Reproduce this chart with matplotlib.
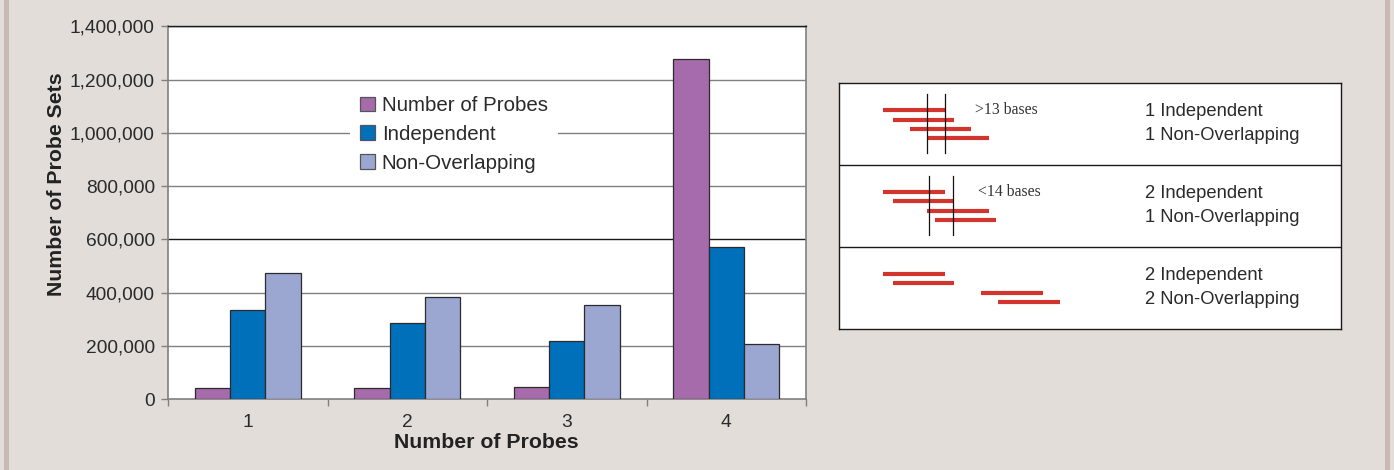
import matplotlib
matplotlib.use("Agg")
import matplotlib.pyplot as plt
import numpy as np
from matplotlib.patches import Rectangle, Patch
from matplotlib.ticker import FuncFormatter, FixedLocator

plt.rcParams['font.family'] = ['Liberation Sans', 'DejaVu Sans']

# ---------------- data ----------------
categories = ['1', '2', '3', '4']
series_names = ['Number of Probes', 'Independent', 'Non-Overlapping']
number_of_probes = [42000, 43000, 44000, 1277000]
independent = [334000, 284000, 219000, 572000]
non_overlapping = [472000, 382000, 354000, 205000]
y_ticks = [0, 200000, 400000, 600000, 800000, 1000000, 1200000, 1400000]
x_label = 'Number of Probes'
y_label = 'Number of Probe Sets'

# schematic: probe start positions (bases) per example row, probe length 25
probe_length = 25
probe_starts = [[0, 4, 11, 18], [0, 4, 18, 21], [0, 4, 40, 47]]
window_marks = [[18, 25], [18.5, 28.5], []]
window_labels = ['>13 bases', '<14 bases', '']
row_labels = [['1 Independent', '1 Non-Overlapping'],
              ['2 Independent', '1 Non-Overlapping'],
              ['2 Independent', '2 Non-Overlapping']]

colors = ['#a56bab', '#0070ba', '#9ba6d1']
bg = '#e2ddd9'

W, H = 1394, 470
fig = plt.figure(figsize=(W / 100, H / 100), dpi=100, facecolor=bg)

# side stripes of the frame
fig.patches.append(Rectangle((4 / W, 0), 5 / W, 1, transform=fig.transFigure,
                             facecolor='#c8b9b4', edgecolor='none', zorder=0))
fig.patches.append(Rectangle((1385 / W, 0), 5 / W, 1, transform=fig.transFigure,
                             facecolor='#c8b9b4', edgecolor='none', zorder=0))

# ---------------- bar chart ----------------
ax = fig.add_axes([168 / W, 1 - 399 / H, (806 - 168) / W, (399 - 26.3) / H])
ax.set_facecolor('white')
x = np.arange(len(categories))
bw = 0.222
series = [number_of_probes, independent, non_overlapping]
for i, (vals, c) in enumerate(zip(series, colors)):
    ax.bar(x + (i - 1) * bw, vals, width=bw, color=c, edgecolor='#2b2b2b',
           linewidth=0.9, zorder=3)

ax.set_xlim(-0.5, len(categories) - 0.5)
ax.set_ylim(0, y_ticks[-1])
for v in y_ticks[1:]:
    ax.axhline(v, color='#1a1a1a' if v in (600000, 1400000) else '#808080',
               lw=1.0, zorder=1)

ax.yaxis.set_major_locator(FixedLocator(y_ticks))
ax.yaxis.set_major_formatter(FuncFormatter(lambda v, p: f'{int(v):,}'))
ax.set_xticks(x)
ax.set_xticklabels(categories)
ax.set_xticks(np.arange(len(categories) + 1) - 0.5, minor=True)
ax.tick_params(axis='y', direction='out', length=5, width=1, color='#808080',
               labelsize=13.8, pad=4.5, labelcolor='#2a2a2a')
ax.tick_params(axis='x', which='major', length=0, pad=11, labelsize=13.8,
               labelcolor='#2a2a2a')
ax.tick_params(axis='x', which='minor', direction='out', length=5, width=1,
               color='#808080')
for s in ['left', 'bottom', 'right']:
    ax.spines[s].set_color('#808080')
    ax.spines[s].set_linewidth(1.2)
ax.spines['top'].set_color('#1a1a1a')
ax.spines['top'].set_linewidth(1.0)

handles = [Patch(facecolor=c, edgecolor='#555555', linewidth=0.9) for c in colors]
leg = ax.legend(handles, series_names, loc='upper left',
                bbox_to_anchor=(350 / W, 1 - 86 / H), bbox_transform=fig.transFigure,
                fontsize=14.8, frameon=True, fancybox=False, framealpha=1,
                facecolor='white', edgecolor='none', handlelength=0.72,
                handleheight=0.72, handletextpad=0.32, labelspacing=0.47,
                borderpad=0.5, borderaxespad=0)
for t in leg.get_texts():
    t.set_color('#2a2a2a')
leg.set_zorder(5)

fig.text(486 / W, 1 - 443 / H, x_label, ha='center', va='center',
         fontsize=15.3, fontweight='bold', color='#222222')
fig.text(57 / W, 1 - 184.5 / H, y_label, ha='center', va='center',
         rotation=90, fontsize=15.3, fontweight='bold', color='#222222')

# ---------------- schematic panel ----------------
px_per_base = 2.45
x0_px = 883.3
left_px, right_px, top_px, bot_px = 839, 1341, 83.3, 329
ax2 = fig.add_axes([left_px / W, 1 - bot_px / H, (right_px - left_px) / W,
                    (bot_px - top_px) / H])
ax2.set_facecolor('white')
ax2.set_xlim((left_px - x0_px) / px_per_base, (right_px - x0_px) / px_per_base)
panel_h = bot_px - top_px
ax2.set_ylim(panel_h, 0)
ax2.set_xticks([])
ax2.set_yticks([])
for s in ax2.spines.values():
    s.set_color('#1a1a1a')
    s.set_linewidth(1.0)

row_h = panel_h / 3
red = '#d2352e'
for r, starts in enumerate(probe_starts):
    rt = r * row_h
    if r > 0:
        ax2.axhline(rt, color='#1a1a1a', lw=1.0)
    for k, s0 in enumerate(starts):
        yk = rt + 27.2 + 9.1 * k
        ax2.plot([s0, s0 + probe_length], [yk, yk], color=red, lw=3.0,
                 solid_capstyle='butt', zorder=3)
    for m in window_marks[r]:
        ax2.plot([m, m], [rt + 11, rt + 70], color='#111111', lw=0.9, zorder=4)
    if window_labels[r]:
        ax2.text(37.6 if r == 0 else 38.8, rt + 26.5, window_labels[r],
                 family=['Liberation Serif', 'DejaVu Serif'], fontsize=11.3,
                 color='#333333', ha='left', va='center')
    ax2.text(106.8, rt + 28.5, row_labels[r][0], fontsize=13.2, color='#2a2a2a',
             ha='left', va='center')
    ax2.text(106.8, rt + 52, row_labels[r][1], fontsize=13.2, color='#2a2a2a',
             ha='left', va='center')

fig.savefig('out.png', dpi=100, facecolor=bg)
